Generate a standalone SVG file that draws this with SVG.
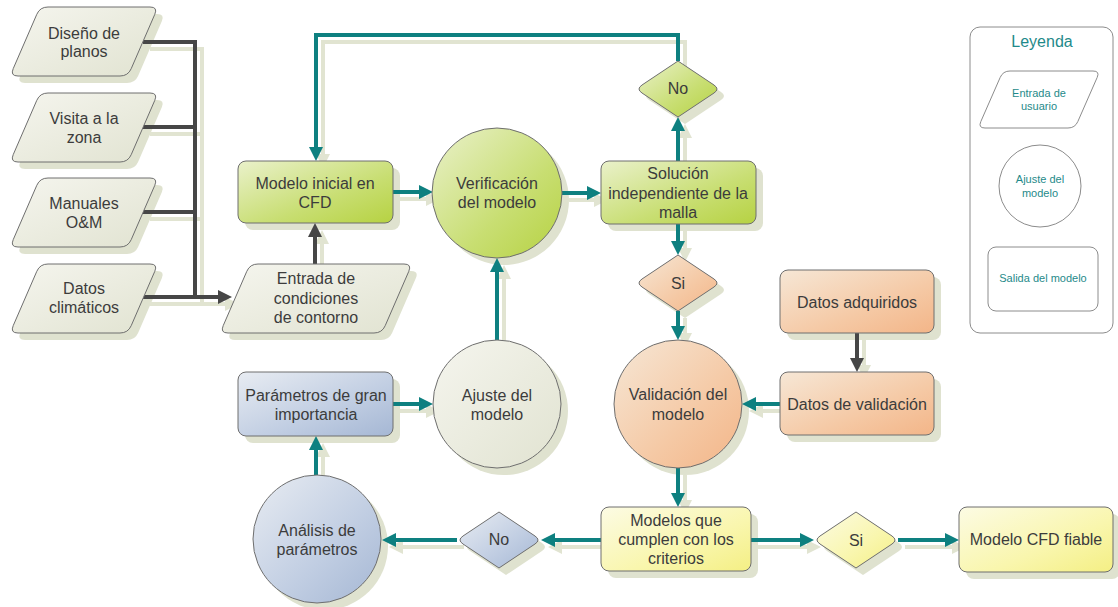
<svg xmlns="http://www.w3.org/2000/svg" xmlns:xlink="http://www.w3.org/1999/xlink" width="1118" height="607" viewBox="0 0 1118 607">
<style>
.t{font-family:"Liberation Sans",Arial,sans-serif;font-size:16px;fill:#3c3c3c;text-anchor:middle}
.lt{font-family:"Liberation Sans",Arial,sans-serif;font-size:11px;fill:#1f8a8a;text-anchor:middle}
.ltitle{font-family:"Liberation Sans",Arial,sans-serif;font-size:16px;fill:#1f8a8a;text-anchor:middle}
.n{stroke:#6e6e6e;stroke-width:1}
.beige{fill:url(#gBeige)}
.green{fill:url(#gGreen)}
.orange{fill:url(#gOrange)}
.blue{fill:url(#gBlue)}
.yellow{fill:url(#gYellow)}
.sh{fill:#dfe2cf;stroke:none}
.teal{fill:none;stroke:#0e8080;stroke-width:4;stroke-linejoin:miter}
.dark{fill:none;stroke:#464646;stroke-width:4;stroke-linejoin:miter}
.cs{fill:none;stroke:#e1e4d1;stroke-width:4;stroke-linejoin:miter}
.leg{fill:#fff;stroke:#8c8c8c;stroke-width:1}
</style>
<defs>
<linearGradient id="gBeige" x1="0" y1="0" x2="1" y2="1"><stop offset="0" stop-color="#f5f5ee"/><stop offset="1" stop-color="#e1e3d1"/></linearGradient>
<linearGradient id="gGreen" x1="0" y1="0" x2="1" y2="1"><stop offset="0" stop-color="#eaf1cb"/><stop offset="0.6" stop-color="#c8de72"/><stop offset="1" stop-color="#b6d242"/></linearGradient>
<linearGradient id="gOrange" x1="0" y1="0" x2="1" y2="1"><stop offset="0" stop-color="#f6e7d6"/><stop offset="0.6" stop-color="#f5c9a5"/><stop offset="1" stop-color="#f3b588"/></linearGradient>
<linearGradient id="gBlue" x1="0" y1="0" x2="1" y2="1"><stop offset="0" stop-color="#e8ecf2"/><stop offset="0.6" stop-color="#c0cde2"/><stop offset="1" stop-color="#a5b7d4"/></linearGradient>
<linearGradient id="gYellow" x1="0" y1="0" x2="1" y2="1"><stop offset="0" stop-color="#fcfbe4"/><stop offset="0.6" stop-color="#f9f6ad"/><stop offset="1" stop-color="#f4ef84"/></linearGradient>
<marker id="aT" viewBox="0 0 14 14" refX="0" refY="7" markerWidth="14" markerHeight="14" markerUnits="userSpaceOnUse" orient="auto"><path d="M0,0 L14,7 L0,14 z" fill="#0e8080"/></marker>
<marker id="aD" viewBox="0 0 14 14" refX="0" refY="7" markerWidth="14" markerHeight="14" markerUnits="userSpaceOnUse" orient="auto"><path d="M0,0 L14,7 L0,14 z" fill="#464646"/></marker>
<marker id="aS" viewBox="0 0 14 14" refX="0" refY="7" markerWidth="14" markerHeight="14" markerUnits="userSpaceOnUse" orient="auto"><path d="M0,0 L14,7 L0,14 z" fill="#e1e4d1"/></marker>
<path id="para" d="M38,0 L140,0 Q148,0 144.8,7.3 L121.2,61.7 Q118,69 110,69 L8,69 Q0,69 3.2,61.7 L26.8,7.3 Q30,0 38,0 Z"/>
<path id="paraE" d="M38,0 L184,0 Q192,0 188.8,7.3 L165.2,61.7 Q162,69 154,69 L8,69 Q0,69 3.2,61.7 L26.8,7.3 Q30,0 38,0 Z"/>
<path id="dia" d="M0,-28 L36,-4 Q42,0 36,4 L0,28 L-36,4 Q-42,0 -36,-4 Z"/>
<path id="c1" d="M143,42 H195 V297"/>
<path id="c2" d="M143,127 H195"/>
<path id="c3" d="M143,212 H195"/>
<path id="c4" d="M143,297 H218"/>
<path id="c5" d="M315,264 V237"/>
<path id="c6" d="M857,333 V358"/>
<path id="c7" d="M678,61 V35 H316 V147"/>
<path id="c8" d="M393,192 H419"/>
<path id="c9" d="M562,193 H587"/>
<path id="c10" d="M678,161 V131"/>
<path id="c11" d="M678,224 V241"/>
<path id="c12" d="M678,311 V326"/>
<path id="c13" d="M780,404 H756"/>
<path id="c14" d="M678,468 V493"/>
<path id="c15" d="M751,540 H800"/>
<path id="c16" d="M898,540 H945"/>
<path id="c17" d="M601,540 H555"/>
<path id="c18" d="M457,540 H396"/>
<path id="c19" d="M316,475 V450"/>
<path id="c20" d="M393,404 H419"/>
<path id="c21" d="M497,340 V272"/>
</defs>

<g id="shadows">
<g class="sh">
<use href="#para" x="17" y="14"/>
<use href="#para" x="17" y="100"/>
<use href="#para" x="17" y="185"/>
<use href="#para" x="17" y="271"/>
<use href="#paraE" x="227" y="271"/>
<rect x="245" y="168" width="155" height="62" rx="8"/>
<circle cx="504" cy="200" r="65"/>
<rect x="608" y="168" width="155" height="63" rx="8"/>
<use href="#dia" x="685" y="96"/>
<use href="#dia" x="685" y="290"/>
<rect x="787" y="277" width="154" height="63" rx="8"/>
<rect x="787" y="379" width="154" height="63" rx="8"/>
<circle cx="685" cy="411" r="64"/>
<rect x="245" y="379" width="155" height="64" rx="8"/>
<circle cx="504" cy="411" r="64"/>
<circle cx="324" cy="546" r="64"/>
<use href="#dia" x="506" y="547"/>
<rect x="608" y="514" width="150" height="64" rx="8"/>
<use href="#dia" x="863" y="547"/>
<rect x="966" y="514" width="154" height="65" rx="8"/>
</g>
<g class="cs" transform="translate(7,7)">
<use href="#c1"/><use href="#c2"/><use href="#c3"/>
<use href="#c4" marker-end="url(#aS)"/><use href="#c5" marker-end="url(#aS)"/><use href="#c6" marker-end="url(#aS)"/>
<use href="#c7" marker-end="url(#aS)"/><use href="#c8" marker-end="url(#aS)"/><use href="#c9" marker-end="url(#aS)"/>
<use href="#c10" marker-end="url(#aS)"/><use href="#c11" marker-end="url(#aS)"/><use href="#c12" marker-end="url(#aS)"/>
<use href="#c13" marker-end="url(#aS)"/><use href="#c14" marker-end="url(#aS)"/><use href="#c15" marker-end="url(#aS)"/>
<use href="#c16" marker-end="url(#aS)"/><use href="#c17" marker-end="url(#aS)"/><use href="#c18" marker-end="url(#aS)"/>
<use href="#c19" marker-end="url(#aS)"/><use href="#c20" marker-end="url(#aS)"/><use href="#c21" marker-end="url(#aS)"/>
</g>
</g>

<g id="connectors">
<g class="dark">
<use href="#c1"/><use href="#c2"/><use href="#c3"/>
<use href="#c4" marker-end="url(#aD)"/><use href="#c5" marker-end="url(#aD)"/><use href="#c6" marker-end="url(#aD)"/>
</g>
<g class="teal">
<use href="#c7" marker-end="url(#aT)"/><use href="#c8" marker-end="url(#aT)"/><use href="#c9" marker-end="url(#aT)"/>
<use href="#c10" marker-end="url(#aT)"/><use href="#c11" marker-end="url(#aT)"/><use href="#c12" marker-end="url(#aT)"/>
<use href="#c13" marker-end="url(#aT)"/><use href="#c14" marker-end="url(#aT)"/><use href="#c15" marker-end="url(#aT)"/>
<use href="#c16" marker-end="url(#aT)"/><use href="#c17" marker-end="url(#aT)"/><use href="#c18" marker-end="url(#aT)"/>
<use href="#c19" marker-end="url(#aT)"/><use href="#c20" marker-end="url(#aT)"/><use href="#c21" marker-end="url(#aT)"/>
</g>
</g>

<g id="n-diseno"><use href="#para" x="10" y="7" class="n beige"/><text class="t" x="84" y="39">Diseño de</text><text class="t" x="84" y="57">planos</text></g>
<g id="n-visita"><use href="#para" x="10" y="93" class="n beige"/><text class="t" x="84" y="124">Visita a la</text><text class="t" x="84" y="143">zona</text></g>
<g id="n-manuales"><use href="#para" x="10" y="178" class="n beige"/><text class="t" x="84" y="209">Manuales</text><text class="t" x="84" y="228">O&amp;M</text></g>
<g id="n-datos-clim"><use href="#para" x="10" y="264" class="n beige"/><text class="t" x="84" y="294">Datos</text><text class="t" x="84" y="313">climáticos</text></g>
<g id="n-entrada"><use href="#paraE" x="220" y="264" class="n beige"/><text class="t" x="316" y="284">Entrada de</text><text class="t" x="316" y="304">condiciones</text><text class="t" x="316" y="323">de contorno</text></g>
<g id="n-modelo-inicial"><rect class="n green" x="238" y="161" width="155" height="62" rx="8"/><text class="t" x="315" y="189">Modelo inicial en</text><text class="t" x="315" y="208">CFD</text></g>
<g id="n-verificacion"><circle class="n green" cx="497" cy="193" r="65"/><text class="t" x="497" y="189">Verificación</text><text class="t" x="497" y="208">del modelo</text></g>
<g id="n-solucion"><rect class="n green" x="601" y="161" width="155" height="63" rx="8"/><text class="t" x="678" y="179">Solución</text><text class="t" x="678" y="199">independiente de la</text><text class="t" x="678" y="218">malla</text></g>
<g id="n-no-top"><use href="#dia" x="678" y="89" class="n green"/><text class="t" x="678" y="94">No</text></g>
<g id="n-si-top"><use href="#dia" x="678" y="283" class="n orange"/><text class="t" x="678" y="289">Si</text></g>
<g id="n-datos-adq"><rect class="n orange" x="780" y="270" width="154" height="63" rx="8"/><text class="t" x="857" y="308">Datos adquiridos</text></g>
<g id="n-datos-val"><rect class="n orange" x="780" y="372" width="154" height="63" rx="8"/><text class="t" x="857" y="410">Datos de validación</text></g>
<g id="n-validacion"><circle class="n orange" cx="678" cy="404" r="64"/><text class="t" x="678" y="400">Validación del</text><text class="t" x="678" y="420">modelo</text></g>
<g id="n-parametros"><rect class="n blue" x="238" y="372" width="155" height="64" rx="8"/><text class="t" x="316" y="401">Parámetros de gran</text><text class="t" x="316" y="420">importancia</text></g>
<g id="n-ajuste"><circle class="n beige" cx="497" cy="404" r="64"/><text class="t" x="497" y="401">Ajuste del</text><text class="t" x="497" y="420">modelo</text></g>
<g id="n-analisis"><circle class="n blue" cx="317" cy="539" r="64"/><text class="t" x="317" y="536">Análisis de</text><text class="t" x="317" y="555">parámetros</text></g>
<g id="n-no-bottom"><use href="#dia" x="499" y="540" class="n blue"/><text class="t" x="499" y="545">No</text></g>
<g id="n-modelos"><rect class="n yellow" x="601" y="507" width="150" height="64" rx="8"/><text class="t" x="676" y="526">Modelos que</text><text class="t" x="676" y="545">cumplen con los</text><text class="t" x="676" y="564">criterios</text></g>
<g id="n-si-bottom"><use href="#dia" x="856" y="540" class="n yellow"/><text class="t" x="856" y="546">Si</text></g>
<g id="n-fiable"><rect class="n yellow" x="959" y="507" width="154" height="65" rx="8"/><text class="t" x="1036" y="545">Modelo CFD fiable</text></g>

<g id="legend">
<rect class="leg" x="970" y="27" width="143" height="306" rx="10"/>
<text class="ltitle" x="1042" y="47">Leyenda</text>
<path class="leg" d="M1010,71 L1093,71 Q1100,71 1097.2,77.4 L1077.8,121.6 Q1075,128 1068,128 L985,128 Q978,128 980.8,121.6 L1000.2,77.4 Q1003,71 1010,71 Z"/>
<text class="lt" x="1039" y="97">Entrada de</text>
<text class="lt" x="1039" y="110">usuario</text>
<circle class="leg" cx="1040" cy="186" r="41"/>
<text class="lt" x="1040" y="183">Ajuste del</text>
<text class="lt" x="1040" y="197">modelo</text>
<rect class="leg" x="988" y="247" width="110" height="64" rx="8"/>
<text class="lt" x="1043" y="282">Salida del modelo</text>
</g>
</svg>
